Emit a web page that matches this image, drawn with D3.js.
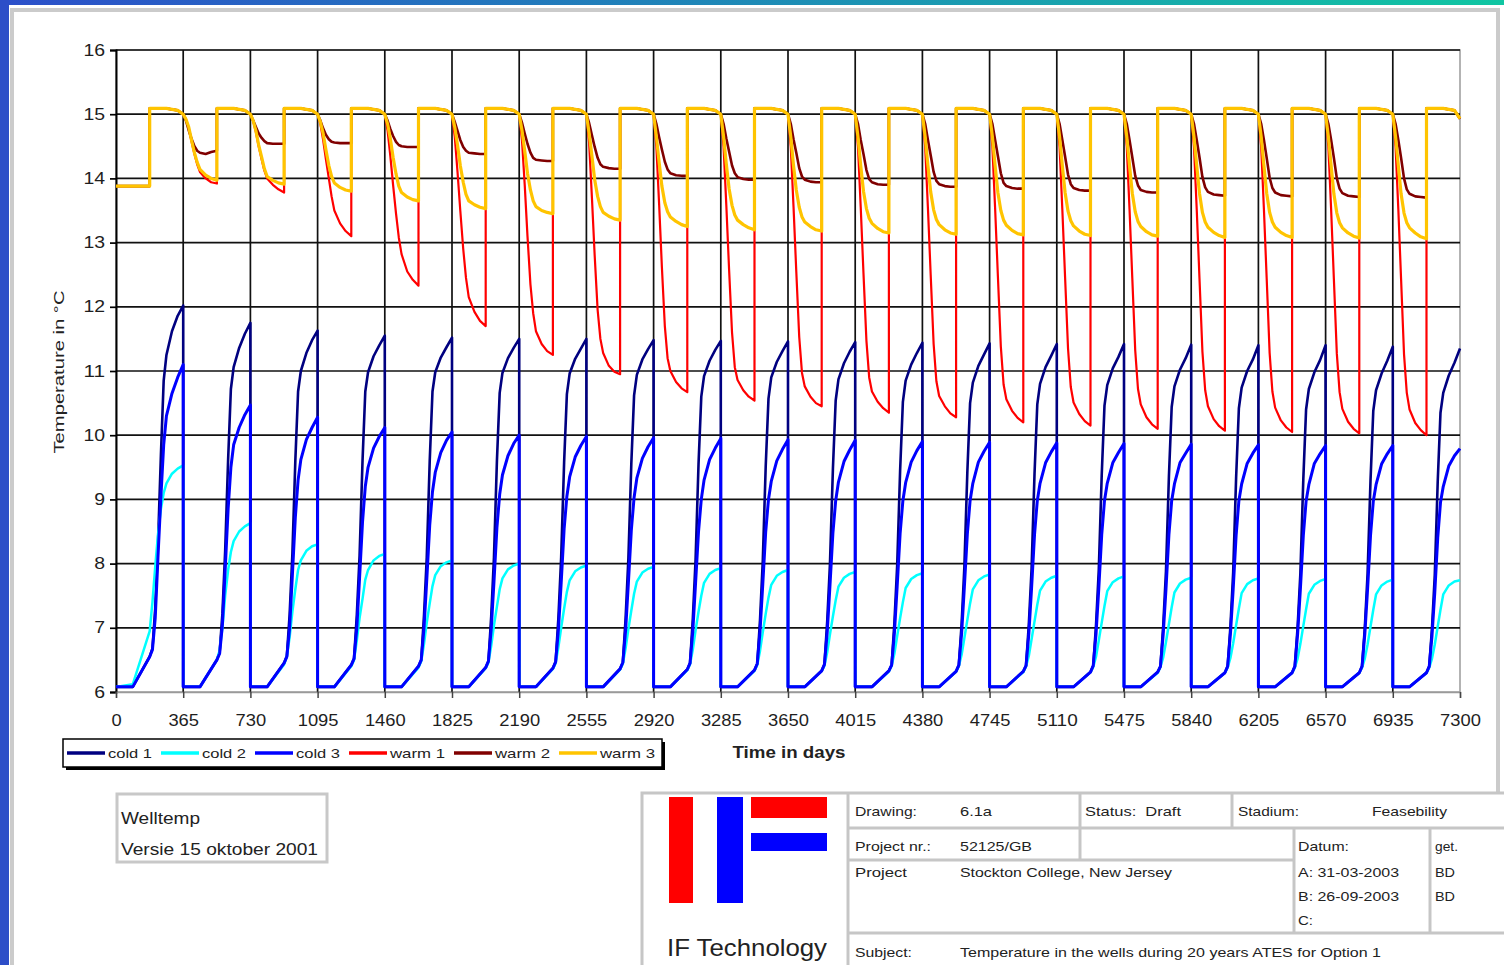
<!DOCTYPE html>
<html>
<head>
<meta charset="utf-8">
<script src="https://cdn.jsdelivr.net/npm/d3@7"></script>
<style>
  body { margin: 0; background: #fff; }
  svg { display: block; }
  text { font-family: "Liberation Sans", Arial, sans-serif; }
</style>
</head>
<body>
<div id="chart"></div>
<script>
// ---- data ----
// x-axis ticks (days) and y-axis ticks (deg C)
const xTicks = [0, 365, 730, 1095, 1460, 1825, 2190, 2555, 2920, 3285, 3650, 4015, 4380, 4745, 5110, 5475, 5840, 6205, 6570, 6935, 7300];
const yTicks = [6, 7, 8, 9, 10, 11, 12, 13, 14, 15, 16];

// day-of-year at which each value of a yearly row is read
const coldDays = [0, 91, 183, 198, 213, 228, 244, 259, 274, 304, 335, 365];
const warmDays = [0, 15, 30, 45, 61, 76, 91, 122, 152, 183, 183, 274, 335, 365];

// one row per year (20 years)
const cold1 = [
  [6.08, 6.08, 6.55, 6.68, 7.3, 8.3, 9.7, 10.85, 11.25, 11.62, 11.86, 12.02],
  [6.08, 6.08, 6.5, 6.62, 7.22, 8.2, 9.62, 10.72, 11.06, 11.36, 11.58, 11.75],
  [6.08, 6.08, 6.45, 6.56, 7.2, 8.15, 9.6, 10.68, 11.0, 11.28, 11.48, 11.63],
  [6.08, 6.08, 6.42, 6.52, 7.2, 8.12, 9.6, 10.68, 10.98, 11.23, 11.4, 11.55],
  [6.08, 6.08, 6.4, 6.5, 7.2, 8.1, 9.6, 10.68, 10.98, 11.21, 11.37, 11.52],
  [6.08, 6.08, 6.38, 6.48, 7.18, 8.1, 9.6, 10.66, 10.97, 11.2, 11.36, 11.5],
  [6.08, 6.08, 6.37, 6.47, 7.16, 8.1, 9.58, 10.64, 10.96, 11.19, 11.35, 11.5],
  [6.08, 6.08, 6.36, 6.46, 7.15, 8.08, 9.56, 10.62, 10.94, 11.18, 11.34, 11.48],
  [6.08, 6.08, 6.35, 6.45, 7.14, 8.06, 9.55, 10.6, 10.92, 11.16, 11.33, 11.47],
  [6.08, 6.08, 6.34, 6.44, 7.12, 8.04, 9.52, 10.57, 10.9, 11.14, 11.31, 11.46],
  [6.08, 6.08, 6.33, 6.43, 7.1, 8.0, 9.48, 10.54, 10.87, 11.12, 11.3, 11.45],
  [6.08, 6.08, 6.33, 6.42, 7.08, 7.97, 9.45, 10.52, 10.85, 11.1, 11.28, 11.44],
  [6.08, 6.08, 6.32, 6.42, 7.06, 7.95, 9.42, 10.5, 10.82, 11.08, 11.26, 11.43],
  [6.08, 6.08, 6.32, 6.41, 7.05, 7.92, 9.4, 10.48, 10.8, 11.06, 11.24, 11.42],
  [6.08, 6.08, 6.31, 6.41, 7.04, 7.9, 9.38, 10.46, 10.78, 11.04, 11.22, 11.42],
  [6.08, 6.08, 6.31, 6.4, 7.03, 7.88, 9.36, 10.44, 10.76, 11.02, 11.2, 11.41],
  [6.08, 6.08, 6.3, 6.4, 7.02, 7.86, 9.34, 10.42, 10.74, 11.0, 11.18, 11.4],
  [6.08, 6.08, 6.3, 6.4, 7.01, 7.85, 9.32, 10.4, 10.72, 10.98, 11.17, 11.4],
  [6.08, 6.08, 6.3, 6.4, 7.0, 7.84, 9.3, 10.38, 10.7, 10.96, 11.16, 11.38],
  [6.08, 6.08, 6.3, 6.4, 7.0, 7.82, 9.28, 10.35, 10.66, 10.93, 11.13, 11.35]
];
const cold2 = [
  [6.08, 6.12, 6.95, 7.4, 7.95, 8.45, 8.85, 9.1, 9.25, 9.4, 9.48, 9.53],
  [6.08, 6.08, 6.5, 6.65, 7.0, 7.5, 7.9, 8.18, 8.35, 8.5, 8.58, 8.63],
  [6.08, 6.08, 6.43, 6.55, 6.85, 7.25, 7.6, 7.9, 8.05, 8.2, 8.27, 8.3],
  [6.08, 6.08, 6.4, 6.5, 6.8, 7.15, 7.45, 7.75, 7.9, 8.05, 8.12, 8.15],
  [6.08, 6.08, 6.38, 6.48, 6.75, 7.08, 7.38, 7.65, 7.82, 7.96, 8.02, 8.05],
  [6.08, 6.08, 6.37, 6.46, 6.72, 7.04, 7.33, 7.6, 7.77, 7.91, 7.97, 8.0],
  [6.08, 6.08, 6.36, 6.45, 6.7, 7.0, 7.3, 7.56, 7.74, 7.88, 7.94, 7.97],
  [6.08, 6.08, 6.35, 6.44, 6.68, 6.98, 7.27, 7.53, 7.72, 7.86, 7.92, 7.95],
  [6.08, 6.08, 6.34, 6.43, 6.66, 6.96, 7.25, 7.5, 7.7, 7.84, 7.9, 7.93],
  [6.08, 6.08, 6.33, 6.42, 6.64, 6.93, 7.22, 7.47, 7.67, 7.81, 7.87, 7.9],
  [6.08, 6.08, 6.33, 6.41, 6.62, 6.9, 7.18, 7.43, 7.64, 7.78, 7.84, 7.87],
  [6.08, 6.08, 6.32, 6.41, 6.6, 6.87, 7.15, 7.4, 7.62, 7.76, 7.82, 7.85],
  [6.08, 6.08, 6.32, 6.4, 6.58, 6.84, 7.12, 7.38, 7.6, 7.74, 7.8, 7.83],
  [6.08, 6.08, 6.31, 6.4, 6.56, 6.82, 7.1, 7.36, 7.58, 7.72, 7.78, 7.81],
  [6.08, 6.08, 6.31, 6.39, 6.55, 6.8, 7.08, 7.34, 7.57, 7.71, 7.77, 7.8],
  [6.08, 6.08, 6.3, 6.39, 6.54, 6.78, 7.06, 7.32, 7.55, 7.69, 7.75, 7.78],
  [6.08, 6.08, 6.3, 6.38, 6.53, 6.76, 7.04, 7.3, 7.54, 7.68, 7.74, 7.77],
  [6.08, 6.08, 6.3, 6.38, 6.52, 6.75, 7.03, 7.29, 7.53, 7.67, 7.73, 7.76],
  [6.08, 6.08, 6.3, 6.38, 6.52, 6.74, 7.02, 7.28, 7.52, 7.66, 7.72, 7.75],
  [6.08, 6.08, 6.3, 6.38, 6.52, 6.74, 7.02, 7.28, 7.52, 7.66, 7.72, 7.74]
];
const cold3 = [
  [6.08, 6.08, 6.55, 6.66, 7.15, 8.1, 9.05, 9.85, 10.3, 10.65, 10.9, 11.1],
  [6.08, 6.08, 6.5, 6.6, 7.05, 7.9, 8.85, 9.5, 9.85, 10.12, 10.32, 10.47],
  [6.08, 6.08, 6.45, 6.55, 7.0, 7.82, 8.72, 9.3, 9.62, 9.93, 10.12, 10.28],
  [6.08, 6.08, 6.42, 6.52, 7.0, 7.78, 8.65, 9.2, 9.5, 9.8, 9.98, 10.12],
  [6.08, 6.08, 6.4, 6.5, 7.0, 7.75, 8.6, 9.12, 9.42, 9.73, 9.92, 10.05],
  [6.08, 6.08, 6.38, 6.48, 6.98, 7.72, 8.56, 9.08, 9.38, 9.68, 9.87, 10.0],
  [6.08, 6.08, 6.37, 6.47, 6.97, 7.7, 8.54, 9.05, 9.35, 9.66, 9.84, 9.98],
  [6.08, 6.08, 6.36, 6.46, 6.96, 7.7, 8.52, 9.03, 9.33, 9.64, 9.82, 9.96],
  [6.08, 6.08, 6.35, 6.45, 6.95, 7.7, 8.5, 9.0, 9.3, 9.62, 9.8, 9.95],
  [6.08, 6.08, 6.34, 6.44, 6.94, 7.68, 8.5, 9.0, 9.28, 9.6, 9.78, 9.93],
  [6.08, 6.08, 6.33, 6.43, 6.93, 7.66, 8.48, 8.98, 9.27, 9.59, 9.77, 9.92],
  [6.08, 6.08, 6.33, 6.42, 6.92, 7.65, 8.47, 8.98, 9.26, 9.58, 9.76, 9.9],
  [6.08, 6.08, 6.32, 6.42, 6.91, 7.64, 8.46, 8.98, 9.25, 9.58, 9.75, 9.89],
  [6.08, 6.08, 6.32, 6.41, 6.9, 7.62, 8.45, 8.98, 9.25, 9.57, 9.74, 9.88],
  [6.08, 6.08, 6.31, 6.41, 6.9, 7.61, 8.45, 8.98, 9.25, 9.57, 9.73, 9.87],
  [6.08, 6.08, 6.31, 6.4, 6.9, 7.6, 8.45, 8.98, 9.24, 9.57, 9.72, 9.86],
  [6.08, 6.08, 6.3, 6.4, 6.9, 7.6, 8.44, 8.98, 9.24, 9.56, 9.72, 9.85],
  [6.08, 6.08, 6.3, 6.4, 6.9, 7.6, 8.44, 8.97, 9.23, 9.56, 9.71, 9.84],
  [6.08, 6.08, 6.3, 6.4, 6.9, 7.6, 8.44, 8.97, 9.23, 9.55, 9.71, 9.84],
  [6.08, 6.08, 6.3, 6.4, 6.88, 7.55, 8.4, 8.95, 9.2, 9.52, 9.68, 9.79]
];
const warm1 = [
  [13.88, 13.88, 13.88, 13.88, 13.88, 13.88, 13.88, 13.88, 13.88, 13.88, 15.09, 15.09, 15.06, 15.0],
  [15.0, 14.92, 14.78, 14.58, 14.38, 14.22, 14.1, 14.0, 13.94, 13.92, 15.09, 15.09, 15.06, 15.0],
  [15.0, 14.9, 14.72, 14.5, 14.3, 14.12, 14.0, 13.9, 13.83, 13.78, 15.09, 15.09, 15.06, 15.0],
  [15.0, 14.85, 14.6, 14.3, 14.0, 13.72, 13.5, 13.3, 13.18, 13.1, 15.09, 15.09, 15.06, 15.0],
  [15.0, 14.75, 14.35, 13.9, 13.45, 13.08, 12.82, 12.55, 12.42, 12.33, 15.09, 15.09, 15.06, 15.0],
  [15.0, 14.65, 14.1, 13.5, 12.9, 12.45, 12.15, 11.92, 11.78, 11.7, 15.09, 15.09, 15.06, 15.0],
  [15.0, 14.6, 13.9, 13.1, 12.35, 11.9, 11.62, 11.42, 11.31, 11.25, 15.09, 15.09, 15.06, 15.0],
  [15.0, 14.55, 13.7, 12.8, 11.95, 11.5, 11.28, 11.08, 10.99, 10.95, 15.09, 15.09, 15.06, 15.0],
  [15.0, 14.5, 13.6, 12.62, 11.7, 11.2, 11.0, 10.83, 10.73, 10.67, 15.09, 15.09, 15.06, 15.0],
  [15.0, 14.5, 13.58, 12.58, 11.6, 11.06, 10.86, 10.7, 10.6, 10.54, 15.09, 15.09, 15.06, 15.0],
  [15.0, 14.5, 13.56, 12.55, 11.53, 10.97, 10.76, 10.6, 10.5, 10.45, 15.09, 15.09, 15.06, 15.0],
  [15.0, 14.5, 13.55, 12.52, 11.47, 10.9, 10.68, 10.52, 10.42, 10.35, 15.09, 15.09, 15.06, 15.0],
  [15.0, 14.5, 13.54, 12.5, 11.42, 10.84, 10.61, 10.45, 10.34, 10.28, 15.09, 15.09, 15.06, 15.0],
  [15.0, 14.5, 13.53, 12.48, 11.38, 10.79, 10.56, 10.38, 10.27, 10.2, 15.09, 15.09, 15.06, 15.0],
  [15.0, 14.5, 13.52, 12.46, 11.35, 10.75, 10.51, 10.33, 10.22, 10.15, 15.09, 15.09, 15.06, 15.0],
  [15.0, 14.5, 13.52, 12.45, 11.32, 10.72, 10.48, 10.28, 10.17, 10.1, 15.09, 15.09, 15.06, 15.0],
  [15.0, 14.5, 13.52, 12.44, 11.3, 10.7, 10.45, 10.25, 10.14, 10.07, 15.09, 15.09, 15.06, 15.0],
  [15.0, 14.5, 13.52, 12.44, 11.28, 10.68, 10.43, 10.23, 10.12, 10.05, 15.09, 15.09, 15.06, 15.0],
  [15.0, 14.5, 13.52, 12.43, 11.27, 10.67, 10.41, 10.21, 10.1, 10.03, 15.09, 15.09, 15.06, 15.0],
  [15.0, 14.5, 13.52, 12.43, 11.26, 10.66, 10.4, 10.19, 10.08, 10.0, 15.09, 15.09, 15.06, 14.93]
];
const warm2 = [
  [13.88, 13.88, 13.88, 13.88, 13.88, 13.88, 13.88, 13.88, 13.88, 13.88, 15.09, 15.09, 15.06, 15.0],
  [15.0, 14.9, 14.75, 14.62, 14.5, 14.43, 14.4, 14.38, 14.41, 14.43, 15.09, 15.09, 15.06, 15.0],
  [15.0, 14.9, 14.8, 14.7, 14.63, 14.58, 14.55, 14.54, 14.54, 14.54, 15.09, 15.09, 15.06, 15.0],
  [15.0, 14.9, 14.78, 14.68, 14.61, 14.57, 14.56, 14.55, 14.55, 14.55, 15.09, 15.09, 15.06, 15.0],
  [15.0, 14.9, 14.77, 14.66, 14.57, 14.52, 14.5, 14.49, 14.49, 14.49, 15.09, 15.09, 15.06, 15.0],
  [15.0, 14.88, 14.74, 14.6, 14.49, 14.43, 14.4, 14.39, 14.38, 14.38, 15.09, 15.09, 15.06, 15.0],
  [15.0, 14.87, 14.7, 14.54, 14.4, 14.32, 14.29, 14.28, 14.27, 14.27, 15.09, 15.09, 15.06, 15.0],
  [15.0, 14.86, 14.67, 14.49, 14.32, 14.22, 14.18, 14.16, 14.15, 14.15, 15.09, 15.09, 15.06, 15.0],
  [15.0, 14.85, 14.64, 14.45, 14.26, 14.14, 14.08, 14.05, 14.04, 14.04, 15.09, 15.09, 15.06, 15.0],
  [15.0, 14.85, 14.62, 14.42, 14.2, 14.08, 14.02, 13.99, 13.98, 13.98, 15.09, 15.09, 15.06, 15.0],
  [15.0, 14.85, 14.61, 14.4, 14.16, 14.03, 13.98, 13.95, 13.94, 13.94, 15.09, 15.09, 15.06, 15.0],
  [15.0, 14.85, 14.6, 14.38, 14.13, 13.99, 13.94, 13.91, 13.9, 13.9, 15.09, 15.09, 15.06, 15.0],
  [15.0, 14.85, 14.6, 14.36, 14.1, 13.96, 13.91, 13.88, 13.87, 13.87, 15.09, 15.09, 15.06, 15.0],
  [15.0, 14.85, 14.6, 14.35, 14.08, 13.93, 13.88, 13.85, 13.84, 13.84, 15.09, 15.09, 15.06, 15.0],
  [15.0, 14.85, 14.6, 14.34, 14.06, 13.91, 13.85, 13.82, 13.81, 13.81, 15.09, 15.09, 15.06, 15.0],
  [15.0, 14.85, 14.6, 14.33, 14.04, 13.89, 13.82, 13.79, 13.78, 13.78, 15.09, 15.09, 15.06, 15.0],
  [15.0, 14.85, 14.6, 14.33, 14.02, 13.86, 13.79, 13.75, 13.74, 13.73, 15.09, 15.09, 15.06, 15.0],
  [15.0, 14.85, 14.6, 14.32, 14.01, 13.85, 13.78, 13.74, 13.73, 13.72, 15.09, 15.09, 15.06, 15.0],
  [15.0, 14.85, 14.6, 14.32, 14.0, 13.84, 13.77, 13.73, 13.72, 13.71, 15.09, 15.09, 15.06, 15.0],
  [15.0, 14.85, 14.6, 14.32, 14.0, 13.83, 13.76, 13.72, 13.71, 13.7, 15.09, 15.09, 15.06, 14.93]
];
const warm3 = [
  [13.88, 13.88, 13.88, 13.88, 13.88, 13.88, 13.88, 13.88, 13.88, 13.88, 15.09, 15.09, 15.06, 15.0],
  [15.0, 14.92, 14.8, 14.6, 14.4, 14.25, 14.14, 14.05, 14.0, 13.97, 15.09, 15.09, 15.06, 15.0],
  [15.0, 14.9, 14.74, 14.52, 14.33, 14.15, 14.03, 13.97, 13.93, 13.91, 15.09, 15.09, 15.06, 15.0],
  [15.0, 14.88, 14.7, 14.45, 14.2, 14.03, 13.93, 13.86, 13.82, 13.8, 15.09, 15.09, 15.06, 15.0],
  [15.0, 14.85, 14.62, 14.33, 14.07, 13.88, 13.78, 13.71, 13.67, 13.65, 15.09, 15.09, 15.06, 15.0],
  [15.0, 14.8, 14.52, 14.2, 13.94, 13.75, 13.65, 13.59, 13.55, 13.53, 15.09, 15.09, 15.06, 15.0],
  [15.0, 14.75, 14.43, 14.08, 13.82, 13.65, 13.56, 13.5, 13.47, 13.45, 15.09, 15.09, 15.06, 15.0],
  [15.0, 14.7, 14.35, 13.98, 13.72, 13.56, 13.47, 13.41, 13.37, 13.35, 15.09, 15.09, 15.06, 15.0],
  [15.0, 14.65, 14.25, 13.88, 13.62, 13.48, 13.4, 13.33, 13.28, 13.25, 15.09, 15.09, 15.06, 15.0],
  [15.0, 14.65, 14.22, 13.84, 13.58, 13.43, 13.35, 13.28, 13.23, 13.2, 15.09, 15.09, 15.06, 15.0],
  [15.0, 14.65, 14.2, 13.82, 13.55, 13.4, 13.32, 13.25, 13.2, 13.18, 15.09, 15.09, 15.06, 15.0],
  [15.0, 14.65, 14.2, 13.8, 13.53, 13.38, 13.3, 13.22, 13.17, 13.15, 15.09, 15.09, 15.06, 15.0],
  [15.0, 14.65, 14.2, 13.79, 13.51, 13.36, 13.28, 13.2, 13.15, 13.13, 15.09, 15.09, 15.06, 15.0],
  [15.0, 14.65, 14.2, 13.78, 13.5, 13.35, 13.27, 13.19, 13.14, 13.12, 15.09, 15.09, 15.06, 15.0],
  [15.0, 14.65, 14.2, 13.78, 13.49, 13.34, 13.26, 13.18, 13.13, 13.11, 15.09, 15.09, 15.06, 15.0],
  [15.0, 14.65, 14.2, 13.77, 13.48, 13.33, 13.25, 13.17, 13.12, 13.1, 15.09, 15.09, 15.06, 15.0],
  [15.0, 14.65, 14.2, 13.77, 13.47, 13.32, 13.24, 13.16, 13.11, 13.08, 15.09, 15.09, 15.06, 15.0],
  [15.0, 14.65, 14.2, 13.77, 13.47, 13.32, 13.24, 13.16, 13.11, 13.08, 15.09, 15.09, 15.06, 15.0],
  [15.0, 14.65, 14.2, 13.76, 13.46, 13.31, 13.23, 13.15, 13.1, 13.07, 15.09, 15.09, 15.06, 15.0],
  [15.0, 14.65, 14.2, 13.76, 13.46, 13.31, 13.23, 13.15, 13.09, 13.06, 15.09, 15.09, 15.06, 14.93]
];

const seriesNames = ["cold 1", "cold 2", "cold 3", "warm 1", "warm 2", "warm 3"];
const seriesColors = ["#000080", "#00ffff", "#0000ff", "#ff0000", "#800000", "#ffc400"];

// ---- layout ----
let svgWidth = 1504;
let svgHeight = 965;
let margin = { top: 50, right: 44, bottom: 273, left: 116 };
let width = svgWidth - margin.left - margin.right;
let height = svgHeight - margin.top - margin.bottom;

const svg = d3.select("#chart").append("svg")
  .attr("width", svgWidth)
  .attr("height", svgHeight);

// page frame (blue/teal border + grey sheet edge)
const defs = svg.append("defs");
const grad = defs.append("linearGradient").attr("id", "topband");
grad.append("stop").attr("offset", "0%").attr("stop-color", "#2c4fca");
grad.append("stop").attr("offset", "100%").attr("stop-color", "#10c6a2");

svg.append("rect").attr("width", svgWidth).attr("height", svgHeight).attr("fill", "#fff");
svg.append("rect").attr("x", 0).attr("y", 0).attr("width", svgWidth).attr("height", 5).attr("fill", "url(#topband)");
svg.append("rect").attr("x", 0).attr("y", 0).attr("width", 9).attr("height", svgHeight).attr("fill", "#2d4ec8");
svg.append("rect").attr("x", 12).attr("y", 10).attr("width", 1486).attr("height", 980)
  .attr("fill", "none").attr("stroke", "#cbcbcb").attr("stroke-width", 4);

const chartGroup = svg.append("g")
  .attr("transform", `translate(${margin.left}, ${margin.top})`);

let xScale = d3.scaleLinear().domain([0, 7300]).range([0, width]);
let yScale = d3.scaleLinear().domain([6, 16]).range([height, 0]);

// plot-area border
chartGroup.append("rect")
  .attr("width", width).attr("height", height)
  .attr("fill", "none").attr("stroke", "#9a9a9a").attr("stroke-width", 1.5);

// gridlines
chartGroup.append("g").selectAll("line")
  .data(yTicks.filter(d => d > 6))
  .enter().append("line")
  .attr("x1", 0).attr("x2", width)
  .attr("y1", d => yScale(d)).attr("y2", d => yScale(d))
  .attr("stroke", "#111").attr("stroke-width", 1.7);

chartGroup.append("g").selectAll("line")
  .data(xTicks.filter(d => d > 0 && d < 7300))
  .enter().append("line")
  .attr("x1", d => xScale(d)).attr("x2", d => xScale(d))
  .attr("y1", 0).attr("y2", height)
  .attr("stroke", "#111").attr("stroke-width", 1.7);

// axes
let leftAxis = d3.axisLeft(yScale).tickValues(yTicks).tickSize(6).tickPadding(5).tickFormat(d3.format("d"));
let bottomAxis = d3.axisBottom(xScale).tickValues(xTicks).tickSize(6).tickPadding(17).tickFormat(d3.format("d"));

const gy = chartGroup.append("g").call(leftAxis);
gy.select(".domain").attr("stroke", "#000").attr("stroke-width", 2);
gy.selectAll(".tick line").attr("stroke", "#000").attr("stroke-width", 1.7);
gy.selectAll(".tick text")
  .attr("font-size", 16).attr("fill", "#1e1e1e")
  .attr("font-family", "'Liberation Sans', Arial, sans-serif")
  .attr("textLength", d => String(d).length * 10.8)
  .attr("lengthAdjust", "spacingAndGlyphs");

const gx = chartGroup.append("g")
  .attr("transform", `translate(0, ${height})`)
  .call(bottomAxis);
gx.select(".domain").attr("stroke", "#9a9a9a").attr("stroke-width", 1.5);
gx.selectAll(".tick line").attr("stroke", "#444").attr("stroke-width", 1.5);
gx.selectAll(".tick text")
  .attr("font-size", 16).attr("fill", "#1e1e1e")
  .attr("font-family", "'Liberation Sans', Arial, sans-serif")
  .attr("textLength", d => String(d).length * 10.2)
  .attr("lengthAdjust", "spacingAndGlyphs");

// axis titles
svg.append("text")
  .attr("transform", "translate(64, 372) rotate(-90)")
  .attr("text-anchor", "middle")
  .attr("font-size", 14).attr("fill", "#222")
  .attr("textLength", 163).attr("lengthAdjust", "spacingAndGlyphs")
  .text("Temperature in °C");

svg.append("text")
  .attr("x", 789).attr("y", 758)
  .attr("text-anchor", "middle")
  .attr("font-size", 16).attr("font-weight", "bold").attr("fill", "#222")
  .attr("textLength", 113).attr("lengthAdjust", "spacingAndGlyphs")
  .text("Time in days");

// lines
function toPoints(days, rows) {
  return rows.flatMap((row, i) => row.map((v, j) => ({ day: i * 365 + days[j], temp: v })));
}
const seriesData = [
  toPoints(coldDays, cold1),
  toPoints(coldDays, cold2),
  toPoints(coldDays, cold3),
  toPoints(warmDays, warm1),
  toPoints(warmDays, warm2),
  toPoints(warmDays, warm3)
];
const lineWidths = [2.6, 2.5, 3, 2.2, 2.6, 3.2];

let line = d3.line()
  .x(d => xScale(d.day))
  .y(d => yScale(d.temp));

chartGroup.append("g").selectAll("path")
  .data(seriesData)
  .enter().append("path")
  .attr("d", line)
  .attr("fill", "none")
  .attr("stroke", (d, i) => seriesColors[i])
  .attr("stroke-width", (d, i) => lineWidths[i])
  .attr("stroke-linejoin", "round");

// legend
const legend = svg.append("g");
legend.append("rect").attr("x", 66).attr("y", 742).attr("width", 599).attr("height", 28).attr("fill", "#000");
legend.append("rect").attr("x", 63).attr("y", 739).attr("width", 599).attr("height", 28)
  .attr("fill", "#fff").attr("stroke", "#000").attr("stroke-width", 1.5);
let lx = 67;
seriesNames.forEach((name, i) => {
  const tw = name.startsWith("warm") ? 55 : 44;
  legend.append("line")
    .attr("x1", lx).attr("x2", lx + 38).attr("y1", 753).attr("y2", 753)
    .attr("stroke", seriesColors[i]).attr("stroke-width", 3.5);
  legend.append("text")
    .attr("x", lx + 41).attr("y", 758)
    .attr("font-size", 13).attr("fill", "#222")
    .attr("textLength", tw).attr("lengthAdjust", "spacingAndGlyphs")
    .text(name);
  lx += 38 + 3 + tw + 9;
});

// version box
const note = svg.append("g");
note.append("rect").attr("x", 117).attr("y", 794).attr("width", 210).attr("height", 68)
  .attr("fill", "#fff").attr("stroke", "#c8c8c8").attr("stroke-width", 3);
note.append("text").attr("x", 121).attr("y", 824).attr("font-size", 17).attr("fill", "#222")
  .attr("textLength", 79).attr("lengthAdjust", "spacingAndGlyphs").text("Welltemp");
note.append("text").attr("x", 121).attr("y", 855).attr("font-size", 17).attr("fill", "#222")
  .attr("textLength", 197).attr("lengthAdjust", "spacingAndGlyphs").text("Versie 15 oktober 2001");

// title block
const tb = svg.append("g");
const gray = "#c6c6c6";
tb.append("rect").attr("x", 642).attr("y", 793).attr("width", 900).attr("height", 200)
  .attr("fill", "#fff").attr("stroke", gray).attr("stroke-width", 3);
const tbLines = [
  [848, 793, 848, 965], [848, 828, 1504, 828], [1080, 793, 1080, 860], [1232, 793, 1232, 828],
  [848, 860, 1294, 860], [1294, 828, 1294, 933], [1430, 828, 1430, 933], [848, 933, 1504, 933]
];
tb.selectAll("line.tb").data(tbLines).enter().append("line")
  .attr("x1", d => d[0]).attr("y1", d => d[1]).attr("x2", d => d[2]).attr("y2", d => d[3])
  .attr("stroke", gray).attr("stroke-width", 3);

// logo
tb.append("rect").attr("x", 669).attr("y", 797).attr("width", 24).attr("height", 106).attr("fill", "#ff0000");
tb.append("rect").attr("x", 717).attr("y", 797).attr("width", 26).attr("height", 106).attr("fill", "#0000ff");
tb.append("rect").attr("x", 751).attr("y", 797).attr("width", 76).attr("height", 21).attr("fill", "#ff0000");
tb.append("rect").attr("x", 751).attr("y", 833).attr("width", 76).attr("height", 18).attr("fill", "#0000ff");
tb.append("text").attr("x", 667).attr("y", 956).attr("font-size", 24).attr("fill", "#222")
  .attr("textLength", 160).attr("lengthAdjust", "spacingAndGlyphs").text("IF Technology");

const tbText = [
  ["Drawing:", 855, 816, 62], ["6.1a", 960, 816, 32], ["Status:  Draft", 1085, 816, 96],
  ["Stadium:", 1238, 816, 61], ["Feasebility", 1372, 816, 75],
  ["Project nr.:", 855, 851, 76], ["52125/GB", 960, 851, 72], ["Datum:", 1298, 851, 51], ["get.", 1435, 851, 23],
  ["Project", 855, 877, 52], ["Stockton College, New Jersey", 960, 877, 212],
  ["A: 31-03-2003", 1298, 877, 101], ["BD", 1435, 877, 20],
  ["B: 26-09-2003", 1298, 901, 101], ["BD", 1435, 901, 20], ["C:", 1298, 925, 15],
  ["Subject:", 855, 957, 57], ["Temperature in the wells during 20 years ATES for Option 1", 960, 957, 421]
];
tb.selectAll("text.cell").data(tbText).enter().append("text")
  .attr("class", "cell")
  .attr("x", d => d[1]).attr("y", d => d[2])
  .attr("font-size", 13.5).attr("fill", "#222")
  .attr("textLength", d => d[3]).attr("lengthAdjust", "spacingAndGlyphs")
  .attr("xml:space", "preserve")
  .text(d => d[0]);
</script>
</body>
</html>
